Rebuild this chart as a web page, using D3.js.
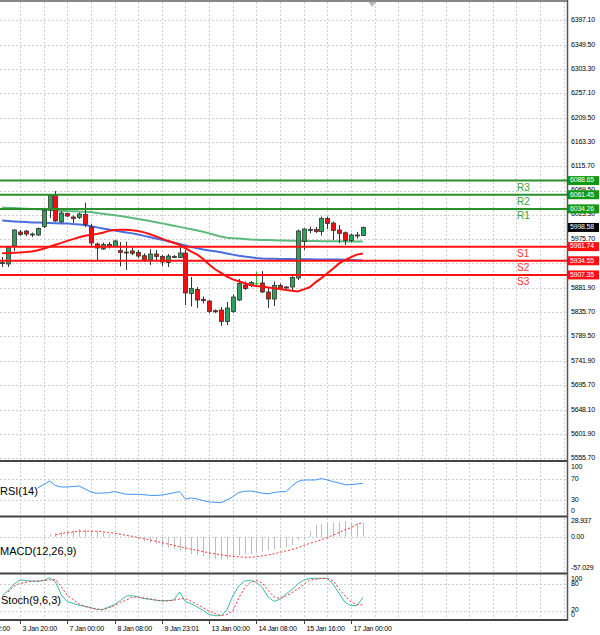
<!DOCTYPE html>
<html>
<head>
    <title>US500 H4 chart</title>
    <script src="https://d3js.org/d3.v7.min.js"></script>
    <style>
        body { margin: 0; background: #fff; font-family: "Liberation Sans", Arial, sans-serif; }
        .grid line { stroke: #cfcfcf; stroke-dasharray: 2,2; shape-rendering: crispEdges; }
        .axis-label { font-size: 7px; fill: #000; letter-spacing: -0.2px; }
        .panel-title { font-size: 11px; fill: #000; }
    </style>
</head>
<body>
<div id="chart"></div>
<script>
// candle data (H4 bars)
const opens  = [5929.5,5928.4,5962.9,5989.8,5991.8,5984.1,5984.1,6000.4,6032.1,6059.9,6009.1,6025.4,6018.7,6017.7,6023.8,5999.5,5966.8,5957.2,5965.8,5962.0,5954.3,5951.4,5953.4,5950.9,5944.3,5936.1,5947.6,5942.8,5931.3,5940.8,5940.8,5949.5,5871.7,5879.4,5860.6,5857.3,5838.7,5840.0,5817.9,5837.1,5859.2,5888.0,5887.0,5892.0,5891.9,5874.6,5861.1,5887.0,5884.2,5884.2,5901.5,5971.6,5992.7,5994.6,5990.8,6015.8,6007.1,5993.7,5988.5,5973.5,5983.1,5983.1];
const highs  = [5941.8,5962.9,5995.6,5993.7,5993.7,5988.9,5998.5,6033.1,6062.8,6068.6,6030.2,6027.3,6021.5,6027.3,6046.1,6005.2,5969.7,5969.7,5970.6,5974.5,5970.6,5971.2,5961.6,5955.3,5948.9,5956.6,5955.3,5945.7,5947.6,5945.7,5961.0,5955.3,5903.4,5884.2,5865.9,5859.2,5841.0,5845.8,5855.4,5869.8,5899.5,5894.8,5895.7,5913.6,5914.9,5884.2,5894.8,5890.9,5886.1,5905.3,5994.6,5996.9,6000.0,5999.5,6019.6,6019.6,6010.0,6003.3,5990.8,5987.0,5989.8,6000.4];
const lows   = [5922.6,5922.6,5953.4,5982.2,5982.2,5980.2,5982.2,5997.5,6016.7,6009.1,6007.1,6018.7,6007.1,6014.8,5999.5,5962.9,5936.1,5955.3,5958.2,5961.0,5923.6,5916.9,5945.7,5939.9,5932.2,5926.5,5936.1,5924.5,5922.6,5939.9,5939.9,5849.6,5846.7,5843.8,5852.5,5833.3,5834.3,5809.3,5811.2,5834.3,5857.3,5878.4,5884.2,5888.0,5872.7,5843.8,5847.7,5878.4,5880.4,5878.4,5897.6,5955.3,5987.3,5987.9,5983.1,5995.6,5974.5,5968.7,5964.9,5970.6,5977.4,5982.2];
const closes = [5931.0,5961.0,5993.7,5985.0,5986.0,5986.0,5996.6,6031.2,6060.9,6011.0,6026.3,6020.5,6015.8,6024.4,6004.6,5968.7,5959.1,5965.8,5962.0,5972.6,5950.5,5950.1,5948.9,5943.7,5934.7,5947.6,5942.8,5932.2,5943.7,5942.8,5949.5,5872.7,5881.3,5859.2,5857.9,5837.1,5836.7,5817.9,5843.8,5865.0,5890.9,5881.3,5892.8,5892.0,5874.6,5861.1,5887.0,5881.3,5883.2,5902.4,5991.8,5995.6,5994.6,5990.8,6015.8,6006.2,5992.7,5987.3,5973.5,5984.1,5984.1,5998.58];

// moving averages
const maSlow = [6036.7,6036.1,6035.8,6035.2,6034.6,6034.2,6033.5,6032.9,6032.1,6031.3,6030.8,6030.0,6029.6,6029.0,6028.7,6028.1,6026.5,6025.0,6023.5,6021.9,6020.4,6018.5,6016.7,6014.8,6012.9,6011.0,6008.7,6006.4,6004.1,6002.0,5999.7,5997.3,5995.0,5992.7,5990.2,5987.2,5984.1,5981.0,5978.7,5977.9,5977.2,5976.2,5975.4,5975.1,5974.7,5974.3,5973.9,5973.5,5973.3,5972.9,5972.8,5972.6,5972.4,5972.4,5972.2,5972.2,5972.0,5972.0,5971.8,5971.8,5971.6,5971.6];
const maMid  = [6011.8,6011.0,6010.2,6009.6,6008.9,6008.3,6007.9,6007.5,6007.1,6006.8,6006.4,6006.0,6005.0,6004.3,6003.3,6001.0,5998.7,5996.6,5994.7,5992.9,5991.0,5989.1,5987.2,5984.9,5982.4,5979.9,5977.2,5974.7,5972.2,5969.5,5966.8,5963.9,5961.2,5958.5,5956.2,5954.5,5952.8,5951.0,5948.7,5946.4,5944.3,5942.6,5941.2,5939.7,5938.9,5938.6,5938.4,5938.2,5938.0,5937.8,5937.4,5937.4,5937.4,5937.2,5937.2,5937.2,5937.0,5937.0,5936.6,5936.1,5935.7,5935.1];
const maFast = [5949.1,5949.5,5950.1,5950.5,5951.2,5952.2,5954.7,5957.6,5961.4,5965.3,5968.9,5972.8,5976.2,5979.9,5982.7,5984.5,5986.0,5988.5,5992.0,5993.5,5994.3,5994.1,5993.1,5991.6,5989.1,5985.4,5981.4,5977.2,5972.9,5969.1,5965.1,5958.5,5952.0,5946.2,5938.0,5927.4,5918.2,5911.3,5904.2,5898.8,5895.1,5891.5,5888.2,5886.1,5885.0,5883.4,5881.9,5880.4,5878.6,5877.1,5875.7,5879.6,5883.6,5893.2,5901.3,5910.5,5919.9,5929.5,5935.7,5941.6,5946.4,5948.7];

// pivot levels
const pivotNames  = ['R3', 'R2', 'R1', 'S1', 'S2', 'S3'];
const pivotValues = [6088.65, 6061.45, 6034.26, 5961.74, 5934.55, 5907.35];

// indicators
const rsi = [null,null,null,null,null,null,52.9,59.6,66.3,57.7,54.8,54.8,55.8,56.7,51.0,45.2,42.7,43.3,43.8,46.2,43.3,40.8,40.8,40.8,39.8,38.8,38.5,39.4,41.3,43.7,45.8,31.7,33.8,31.7,28.7,26.0,25.4,24.6,29.8,36.0,44.2,46.5,47.1,45.2,42.9,41.7,44.2,45.8,45.8,56.7,65.4,68.3,68.3,68.3,71.2,68.3,65.0,62.5,59.2,59.2,60.6,61.9];
const macdHist = [null,null,null,null,null,null,null,2.8,4.7,6.5,8.4,10.3,12.7,14.0,13.5,12.1,10.3,7.8,5.2,2.8,0.9,-0.4,-1.9,-5.6,-8.4,-10.8,-13.1,-16.8,-19.6,-22.4,-25.2,-28.4,-31.4,-33.6,-35.5,-38.3,-40.2,-42.0,-40.2,-36.4,-33.6,-32.7,-31.4,-29.9,-27.7,-24.3,-22.4,-20.9,-18.7,-15.0,-6.5,-2.2,10.3,21.5,23.4,24.7,26.2,27.1,28.9,26.5,25.2,25.2];
const macdSignal = [null,null,null,null,null,null,null,null,null,3.7,6.0,7.8,9.0,10.3,10.3,10.3,10.3,9.3,8.0,6.5,4.7,2.8,0.9,-1.3,-3.6,-5.8,-8.2,-10.7,-13.1,-15.5,-17.9,-20.4,-22.6,-24.9,-27.1,-29.3,-31.2,-32.9,-34.4,-35.9,-36.6,-37.4,-37.4,-36.4,-34.9,-33.1,-31.0,-28.4,-25.8,-23.2,-20.0,-15.9,-12.1,-9.0,-5.2,-1.3,3.2,7.8,12.9,16.8,22.8,25.8];
const stochMain = [53.5,66.1,81.1,90.3,88.9,88.0,86.9,89.2,95.4,85.7,55.8,40.3,36.2,32.0,29.7,26.7,22.4,22.8,28.1,33.9,43.3,53.5,54.1,51.2,47.5,45.6,43.8,42.6,42.6,44.2,62.7,40.3,35.3,28.1,20.0,10.8,8.1,8.1,21.2,53.5,76.5,88.0,89.6,84.6,73.0,50.7,40.8,46.5,58.1,68.4,81.1,90.3,94.2,94.2,94.2,94.2,80.0,59.2,38.5,31.6,31.6,49.5];
const stochSignal = [null,62.7,76.5,82.7,85.0,87.6,88.5,89.2,90.3,91.5,74.2,54.6,45.4,35.0,29.3,25.8,23.5,21.2,25.8,31.6,38.5,44.2,51.2,50.5,48.8,47.0,44.2,41.9,42.4,43.8,46.5,47.7,40.8,34.3,26.5,18.9,13.1,8.5,10.8,18.9,48.8,71.9,85.7,89.2,83.4,66.1,51.2,47.7,53.5,61.5,69.6,80.0,90.3,91.9,93.8,94.2,88.0,69.6,53.5,39.6,33.9,32.7];

// axis ticks
const priceTicks = [6397.10,6349.50,6303.30,6257.10,6209.50,6163.30,6115.70,6069.50,6023.30,5975.70,5929.50,5881.90,5835.70,5789.50,5741.90,5695.70,5648.10,5601.90,5555.70];
const timeLabels = ['2 Jan 12:00','3 Jan 20:00','7 Jan 00:00','8 Jan 08:00','9 Jan 23:01','13 Jan 00:00','14 Jan 08:00','15 Jan 16:00','17 Jan 00:00'];
const timeLabelIndex = [-5, 3, 11, 19, 27, 35, 43, 51, 59];
const signalMarkIndex = 43;

const width = 600, height = 635;
const plotRight = 567;
const panels = {
    main:  { top: 2,   bottom: 460 },
    rsi:   { top: 463, bottom: 516 },
    macd:  { top: 518, bottom: 573 },
    stoch: { top: 575, bottom: 620 }
};

const svg = d3.select('#chart').append('svg')
    .attr('width', width).attr('height', height);

const idx = d3.range(opens.length);
const x = d3.scaleLinear().domain([0, 61]).range([2.27, 362.8]);
const yPrice = d3.scaleLinear().domain([5555.7, 6397.1]).range([458, 20]);
const yRsi = d3.scaleLinear().domain([0, 100]).range([515.5, 463.5]);
const yMacd = d3.scaleLinear().domain([-57.029, 28.937]).range([568, 521]);
const yStoch = d3.scaleLinear().domain([0, 100]).range([619.2, 575.8]);

const defs = svg.append('defs');
Object.entries(panels).forEach(([name, p]) => {
    defs.append('clipPath').attr('id', 'clip-' + name)
        .append('rect').attr('x', 0).attr('y', p.top)
        .attr('width', plotRight).attr('height', p.bottom - p.top);
});

// vertical grid every 4 bars
const gridIdx = d3.range(3, 100, 4).filter(k => x(k) < plotRight);
Object.entries(panels).forEach(([name, p]) => {
    const g = svg.append('g').attr('class', 'grid');
    g.selectAll('line.v').data(gridIdx).enter().append('line')
        .attr('x1', d => Math.round(x(d)) + 0.5).attr('x2', d => Math.round(x(d)) + 0.5)
        .attr('y1', p.top).attr('y2', p.bottom);
});

// horizontal grids
const hGrid = (values, scale) => svg.append('g').attr('class', 'grid')
    .selectAll('line').data(values).enter().append('line')
    .attr('x1', 0).attr('x2', plotRight)
    .attr('y1', d => Math.round(scale(d)) + 0.5).attr('y2', d => Math.round(scale(d)) + 0.5);
hGrid(priceTicks, yPrice);
hGrid([70, 30], yRsi);
hGrid([0], yMacd);
hGrid([80, 20], yStoch);

// main panel
const main = svg.append('g').attr('clip-path', 'url(#clip-main)');

const priceLine = arr => d3.line()
    .x((d, i) => x(i)).y(d => yPrice(d))(arr);

main.append('path').attr('d', priceLine(maSlow))
    .attr('fill', 'none').attr('stroke', '#5dba7d').attr('stroke-width', 2);
main.append('path').attr('d', priceLine(maMid))
    .attr('fill', 'none').attr('stroke', '#4a6ee0').attr('stroke-width', 2);

// candles
const candle = main.selectAll('g.candle').data(idx).enter().append('g');
candle.append('line')
    .attr('x1', i => Math.round(x(i)) + 0.5).attr('x2', i => Math.round(x(i)) + 0.5)
    .attr('y1', i => yPrice(highs[i])).attr('y2', i => yPrice(lows[i]))
    .attr('stroke', i => opens[i] === closes[i] ? '#22c022' : '#333')
    .attr('stroke-width', 1);
candle.append('rect')
    .attr('x', i => Math.round(x(i)) - 1.5)
    .attr('y', i => yPrice(Math.max(opens[i], closes[i])))
    .attr('width', 4)
    .attr('height', i => Math.max(1, Math.abs(yPrice(opens[i]) - yPrice(closes[i]))))
    .attr('fill', i => opens[i] === closes[i] ? '#22c022' : (closes[i] > opens[i] ? '#2fa05c' : '#f01010'))
    .attr('stroke', i => opens[i] === closes[i] ? 'none' : '#333')
    .attr('stroke-width', 0.8);

main.append('path').attr('d', priceLine(maFast))
    .attr('fill', 'none').attr('stroke', '#ff1010').attr('stroke-width', 2);

// pivot lines
pivotValues.forEach((v, i) => {
    const isR = pivotNames[i][0] === 'R';
    main.append('line')
        .attr('x1', 0).attr('x2', plotRight)
        .attr('y1', yPrice(v)).attr('y2', yPrice(v))
        .attr('stroke', isR ? '#2b8f2b' : '#ff1010').attr('stroke-width', 2);
    main.append('text')
        .attr('x', 517).attr('y', yPrice(v) + 10)
        .attr('font-size', 10)
        .attr('fill', isR ? '#35a335' : '#ff3535')
        .text(pivotNames[i]);
});

// shift marker at the top
svg.append('path')
    .attr('d', `M${x(62.6) - 4},2 L${x(62.6) + 4},2 L${x(62.6)},7 Z`)
    .attr('fill', '#bbb');

// RSI panel
const rsiG = svg.append('g').attr('clip-path', 'url(#clip-rsi)');
rsiG.append('path')
    .attr('d', d3.line().defined(d => d !== null).x((d, i) => x(i)).y(d => yRsi(d))(rsi))
    .attr('fill', 'none').attr('stroke', '#3f95f0').attr('stroke-width', 1);

// MACD panel
const macdG = svg.append('g').attr('clip-path', 'url(#clip-macd)');
macdG.selectAll('line.bar').data(idx.filter(i => macdHist[i] !== null)).enter().append('line')
    .attr('x1', i => Math.round(x(i)) + 0.5).attr('x2', i => Math.round(x(i)) + 0.5)
    .attr('y1', yMacd(0)).attr('y2', i => yMacd(macdHist[i]))
    .attr('stroke', '#bdbdbd').attr('stroke-width', 1);
macdG.append('path')
    .attr('d', d3.line().defined(d => d !== null).x((d, i) => x(i)).y(d => yMacd(d))(macdSignal))
    .attr('fill', 'none').attr('stroke', '#ff3030').attr('stroke-width', 1)
    .attr('stroke-dasharray', '2,2');

// Stochastic panel
const stochG = svg.append('g').attr('clip-path', 'url(#clip-stoch)');
stochG.append('path')
    .attr('d', d3.line().defined(d => d !== null).x((d, i) => x(i)).y(d => yStoch(d))(stochMain))
    .attr('fill', 'none').attr('stroke', '#3dbba6').attr('stroke-width', 1);
stochG.append('path')
    .attr('d', d3.line().defined(d => d !== null).x((d, i) => x(i)).y(d => yStoch(d))(stochSignal))
    .attr('fill', 'none').attr('stroke', '#ff3030').attr('stroke-width', 1)
    .attr('stroke-dasharray', '2,2');

// panel titles
svg.append('text').attr('class', 'panel-title').attr('x', 0).attr('y', 495).text('RSI(14)');
svg.append('text').attr('class', 'panel-title').attr('x', 0).attr('y', 555).text('MACD(12,26,9)');
svg.append('text').attr('class', 'panel-title').attr('x', 1).attr('y', 604).text('Stoch(9,6,3)');

// panel borders
[panels.main.bottom + 1, panels.rsi.bottom + 0.5, panels.macd.bottom + 0.5, panels.stoch.bottom].forEach(yy => {
    svg.append('line').attr('x1', 0).attr('x2', plotRight + 1)
        .attr('y1', yy).attr('y2', yy)
        .attr('stroke', '#444').attr('stroke-width', 2);
});
svg.append('line').attr('x1', 0).attr('x2', plotRight + 1)
    .attr('y1', 1).attr('y2', 1).attr('stroke', '#888').attr('stroke-width', 2);
svg.append('line').attr('x1', plotRight + 0.5).attr('x2', plotRight + 0.5)
    .attr('y1', 0).attr('y2', panels.stoch.bottom + 1)
    .attr('stroke', '#555').attr('stroke-width', 1.5);

// right axis labels
const axisText = (items, yFn) => svg.append('g').selectAll('text').data(items).enter().append('text')
    .attr('class', 'axis-label')
    .attr('x', 571).attr('y', d => yFn(d))
    .attr('dominant-baseline', 'middle')
    .text(d => d.label);

axisText(priceTicks.map(v => ({ v, label: v.toFixed(2) })), d => yPrice(d.v));
axisText([100, 70, 30, 0].map(v => ({ v, label: String(v) })),
    d => Math.min(Math.max(yRsi(d.v), panels.rsi.top + 4), panels.rsi.bottom - 5));
axisText([28.937, 0, -57.029].map(v => ({ v, label: v === 0 ? '0.00' : String(v) })), d => yMacd(d.v));
axisText([100, 80, 20, 0].map(v => ({ v, label: String(v) })),
    d => Math.min(Math.max(yStoch(d.v), panels.stoch.top + 4), panels.stoch.bottom - 5));

// price boxes on the axis
const boxes = pivotValues.map((v, i) => ({ v, fill: pivotNames[i][0] === 'R' ? '#119a11' : '#ff1010' }))
    .concat([{ v: closes[closes.length - 1], fill: '#000' }]);
const boxG = svg.append('g').selectAll('g').data(boxes).enter().append('g');
boxG.append('rect')
    .attr('x', plotRight + 1).attr('y', d => yPrice(d.v) - 4.5)
    .attr('width', 31).attr('height', 9)
    .attr('fill', d => d.fill);
boxG.append('text')
    .attr('class', 'axis-label')
    .attr('x', 570).attr('y', d => yPrice(d.v))
    .attr('dominant-baseline', 'middle')
    .attr('fill', '#fff').style('fill', '#fff')
    .text(d => d.v.toFixed(2));

// time axis
const timeG = svg.append('g');
timeLabels.forEach((t, j) => {
    const xx = Math.round(x(timeLabelIndex[j])) + 0.5;
    timeG.append('line').attr('x1', xx).attr('x2', xx)
        .attr('y1', panels.stoch.bottom).attr('y2', panels.stoch.bottom + 4)
        .attr('stroke', '#444');
    timeG.append('text').attr('class', 'axis-label')
        .attr('x', xx + 2).attr('y', 631).text(t);
});
</script>
</body>
</html>
